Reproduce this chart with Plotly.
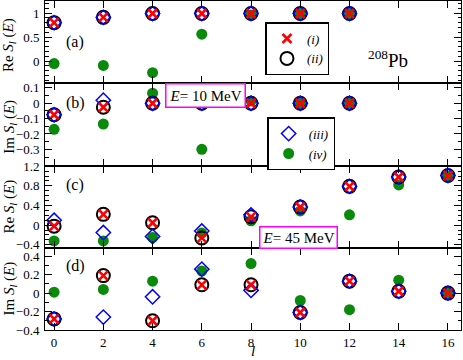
import plotly.graph_objects as go
from plotly.subplots import make_subplots

# ---------------- data ----------------
l10 = [0, 2, 4, 6, 8, 10, 12]
re10_i = [0.80, 0.91, 0.99, 0.99, 0.99, 0.99, 0.99]
re10_ii = [0.80, 0.91, 0.99, 0.99, 0.99, 0.99, 0.99]
re10_iii = [0.80, 0.91, 0.99, 0.99, 0.99, 0.99, 0.99]
re10_iv = [-0.05, -0.09, -0.24, 0.56, 0.96, 0.99, 0.99]
im10_i = [-0.075, -0.026, 0.0, 0.0, 0.0, 0.0, 0.0]
im10_ii = [-0.075, -0.026, 0.0, 0.0, 0.0, 0.0, 0.0]
im10_iii = [-0.075, 0.02, 0.0, 0.0, 0.0, 0.0, 0.0]
im10_iv = [-0.17, -0.135, 0.065, -0.30, 0.015, 0.0, 0.0]

l45 = [0, 2, 4, 6, 8, 10, 12, 14, 16]
re45_i = [-0.02, 0.22, 0.05, -0.26, 0.17, 0.37, 0.79, 0.98, 1.01]
re45_ii = [-0.02, 0.22, 0.05, -0.26, 0.17, 0.37, 0.79, 0.98, 1.01]
re45_iii = [0.10, -0.15, -0.23, -0.12, 0.21, 0.37, 0.79, 0.98, 1.01]
re45_iv = [-0.32, -0.32, -0.25, -0.16, 0.09, 0.29, 0.21, 0.82, 1.00]
im45_i = [-0.28, 0.19, -0.30, 0.09, 0.09, -0.21, 0.13, 0.02, 0.0]
im45_ii = [-0.28, 0.19, -0.30, 0.09, 0.09, -0.21, 0.13, 0.02, 0.0]
im45_iii = [-0.28, -0.26, -0.04, 0.26, 0.03, -0.21, 0.13, 0.02, 0.0]
im45_iv = [0.01, 0.04, 0.13, 0.24, 0.32, -0.08, -0.18, 0.14, 0.0]

series_names = ["(i)", "(ii)", "(iii)", "(iv)"]
x_ticks = [0, 2, 4, 6, 8, 10, 12, 14, 16]
y_ticks = [
    [0, 0.5, 1],
    [-0.3, -0.2, -0.1, 0, 0.1],
    [-0.4, 0, 0.4, 0.8, 1.2],
    [-0.4, -0.2, 0, 0.2, 0.4],
]

SERIF = "Liberation Serif"

styles = {
    "(iv)": dict(symbol="circle", size=11, color="#0a8a0a", line=dict(width=0)),
    "(ii)": dict(symbol="circle-open", size=13, color="black", line=dict(width=2, color="black")),
    "(iii)": dict(symbol="diamond-open", size=11, color="blue", line=dict(width=1.5, color="blue")),
    "(i)": dict(symbol="x-thin-open", size=9, color="red", line=dict(width=2.6, color="red")),
}
ranks = {"(i)": 1, "(ii)": 2, "(iii)": 3, "(iv)": 4}
legend_of = {"(i)": "legend", "(ii)": "legend", "(iii)": "legend2", "(iv)": "legend2"}

panels = [
    (l10, {"(i)": re10_i, "(ii)": re10_ii, "(iii)": re10_iii, "(iv)": re10_iv}),
    (l10, {"(i)": im10_i, "(ii)": im10_ii, "(iii)": im10_iii, "(iv)": im10_iv}),
    (l45, {"(i)": re45_i, "(ii)": re45_ii, "(iii)": re45_iii, "(iv)": re45_iv}),
    (l45, {"(i)": im45_i, "(ii)": im45_ii, "(iii)": im45_iii, "(iv)": im45_iv}),
]

fig = make_subplots(rows=4, cols=1, shared_xaxes=True, vertical_spacing=0)

draw_order = ["(iv)", "(ii)", "(iii)", "(i)"]
for r, (xs, data) in enumerate(panels, start=1):
    for name in draw_order:
        show = (r == 1 and name in ("(i)", "(ii)")) or (r == 2 and name in ("(iii)", "(iv)"))
        fig.add_trace(
            go.Scatter(
                x=xs, y=data[name], mode="markers", name="<i>" + name + "</i>",
                marker=styles[name], showlegend=show, legend=legend_of[name],
                legendrank=ranks[name], cliponaxis=True,
            ),
            row=r, col=1,
        )

yranges = [[-0.46, 1.25], [-0.405, 0.13], [-0.46, 1.215], [-0.40, 0.492]]
yminor = [0.1, 0.05, 0.1, 0.1]
ytitles = ["Re <i>S<sub>l</sub></i> (<i>E</i>)", "Im <i>S<sub>l</sub></i> (<i>E</i>)",
           "Re <i>S<sub>l</sub></i> (<i>E</i>)", "Im <i>S<sub>l</sub></i> (<i>E</i>)"]
ytitle_y = [0.865, 0.617, 0.374, 0.125]

axis_common = dict(showline=True, linecolor="black", linewidth=1, mirror="allticks",
                   ticks="inside", ticklen=7, tickwidth=1, tickcolor="black",
                   showgrid=False, zeroline=False, automargin=False,
                   tickfont=dict(family=SERIF, size=13, color="black"))

for r in range(1, 5):
    fig.update_yaxes(range=yranges[r - 1], tickvals=y_ticks[r - 1], ticklabelstandoff=2,
                     minor=dict(ticks="inside", ticklen=3.5, dtick=yminor[r - 1], tick0=0,
                                tickcolor="black", showgrid=False),
                     row=r, col=1, **axis_common)
    fig.update_xaxes(range=[-0.37, 16.53], tickvals=x_ticks, ticklabelstandoff=0,
                     row=r, col=1, **axis_common)
    fig.add_annotation(x=-0.085, y=ytitle_y[r - 1], xref="paper", yref="paper",
                       text=ytitles[r - 1], textangle=-90, showarrow=False,
                       xanchor="center", yanchor="middle",
                       font=dict(family=SERIF, size=15, color="black"))

fig.add_annotation(x=0.5, y=-0.064, xref="paper", yref="paper", text="<i>l</i>",
                   showarrow=False, yanchor="middle",
                   font=dict(family=SERIF, size=15, color="black"))

# panel labels
labels = ["(a)", "(b)", "(c)", "(d)"]
label_y = [0.40, 0.0, 0.81, 0.29]
for r in range(1, 5):
    ax = "" if r == 1 else str(r)
    fig.add_annotation(x=0.85, y=label_y[r - 1], xref="x" + ax, yref="y" + ax,
                       text=labels[r - 1], showarrow=False,
                       font=dict(family=SERIF, size=16, color="black"))

# energy boxes
fig.add_annotation(x=0.387, y=0.751, xref="paper", yref="paper",
                   text="<i>E</i>= 10 MeV", showarrow=False, bgcolor="white",
                   bordercolor="#ff00ff", borderwidth=1.5, borderpad=3,
                   font=dict(family=SERIF, size=15, color="black"))
fig.add_annotation(x=0.704, y=0.246, xref="paper", yref="paper",
                   text="<i>E</i>= 45 MeV", showarrow=False, bgcolor="white",
                   bordercolor="#ff00ff", borderwidth=1.5, borderpad=2,
                   font=dict(family=SERIF, size=15, color="black"))
fig.add_annotation(x=0.877, y=0.866, xref="paper", yref="paper",
                   text="<sup>208</sup>Pb", showarrow=False,
                   font=dict(family=SERIF, size=19, color="black"))

legend_style = dict(bgcolor="white", bordercolor="black", borderwidth=1.5,
                    font=dict(family=SERIF, size=13, color="black"),
                    xanchor="left", yanchor="top", itemwidth=30,
                    tracegroupgap=0, traceorder="normal")
fig.update_layout(
    width=463, height=360,
    margin=dict(l=45, r=2, t=1, b=30),
    plot_bgcolor="white", paper_bgcolor="white",
    legend=dict(x=0.53, y=0.936, **legend_style),
    legend2=dict(x=0.534, y=0.647, **legend_style),
)

fig.write_html("out.html", config={"displayModeBar": False},
               post_script="document.body.style.margin='0';document.body.style.padding='0';")
